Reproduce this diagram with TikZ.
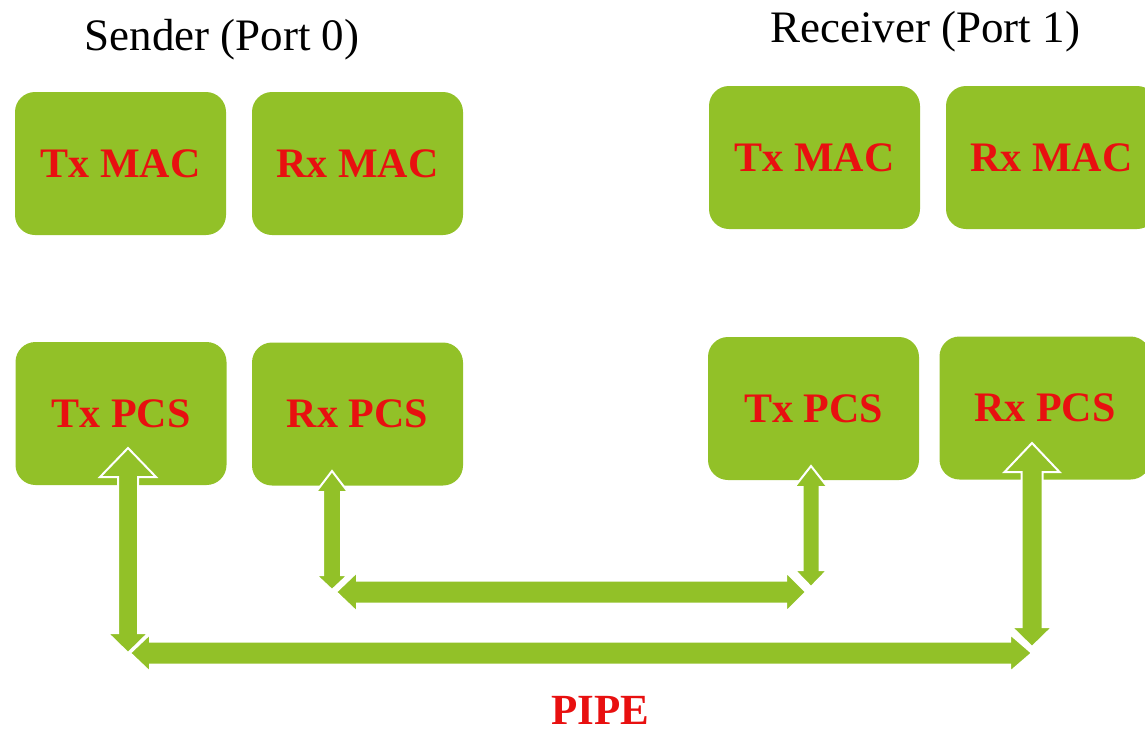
\documentclass[tikz,border=0pt]{standalone}
\usepackage{fontspec}
\setmainfont{Liberation Serif}
\usetikzlibrary{calc}
\definecolor{boxgreen}{RGB}{146,193,40}
\definecolor{lblred}{RGB}{232,16,16}
\tikzset{
  blk/.style={fill=boxgreen, rounded corners=20pt, minimum width=211pt, minimum height=143pt,
    inner sep=0pt, text=lblred, font=\fontsize{42}{48}\selectfont\bfseries},
  ttl/.style={font=\fontsize{45}{50}\selectfont, anchor=base, inner sep=0pt},
  pipelbl/.style={font=\fontsize{43}{50}\selectfont\bfseries, text=lblred, anchor=base, inner sep=0pt},
  blockarr/.style={fill=boxgreen, draw=white, line width=2pt, line join=miter},
}
% vertical double block arrow: top, bottom, shaft half, top head half, top head len, bottom head half, bottom head len
\newcommand\varrow[7]{\path[blockarr] (#1) -- ($(#1)+(#4,#5)$) -- ($(#1)+(#3,#5)$) -- ($(#2)+(#3,-#7)$) -- ($(#2)+(#6,-#7)$) -- (#2) -- ($(#2)+(-#6,-#7)$) -- ($(#2)+(-#3,-#7)$) -- ($(#1)+(-#3,#5)$) -- ($(#1)+(-#4,#5)$) -- cycle;}
% horizontal double block arrow: left, right, shaft half, left head half, left head len, right head half, right head len
\newcommand\harrow[7]{\path[blockarr] (#1) -- ($(#1)+(#5,#4)$) -- ($(#1)+(#5,#3)$) -- ($(#2)+(-#7,#3)$) -- ($(#2)+(-#7,#6)$) -- (#2) -- ($(#2)+(-#7,-#6)$) -- ($(#2)+(-#7,-#3)$) -- ($(#1)+(#5,-#3)$) -- ($(#1)+(#5,-#4)$) -- cycle;}
\begin{document}
\begin{tikzpicture}[x=1pt,y=-1pt]
\useasboundingbox (0,0) rectangle (1145,734);
\clip (0,0) rectangle (1145,734);
% titles
\node[ttl] (sendt) at (222,50) {Sender (Port 0)};
\node[ttl] (recvt) at (925,42) {Receiver (Port 1)};
% MAC boxes
\node[blk] (stxmac) at (120.5,163.5) {Tx MAC};
\node[blk] (srxmac) at (357.5,163.5) {Rx MAC};
\node[blk] (rtxmac) at (814.5,157.5) {Tx MAC};
\node[blk] (rrxmac) at (1051.5,157.5) {Rx MAC};
% PCS boxes
\node[blk] (stxpcs) at (121,413.5) {Tx PCS};
\node[blk] (srxpcs) at (357.5,414) {Rx PCS};
\node[blk] (rtxpcs) at (813.5,408.5) {Tx PCS};
\node[blk] (rrxpcs) at (1045,408) {Rx PCS};
% arrow end points
\coordinate (a1t) at (128,448);  \coordinate (a1b) at (128,653);
\coordinate (a2t) at (332,471);  \coordinate (a2b) at (332,590);
\coordinate (a3t) at (811,466);  \coordinate (a3b) at (811,587);
\coordinate (a4t) at (1032,443); \coordinate (a4b) at (1032,647);
\coordinate (h1l) at (336,592);  \coordinate (h1r) at (806,592);
\coordinate (h2l) at (130,653);  \coordinate (h2r) at (1032,653);
% arrows
\varrow{a1t}{a1b}{10}{28}{29}{20.5}{20}
\varrow{a2t}{a2b}{9}{16}{21}{16}{15}
\varrow{a3t}{a3b}{8.5}{16.5}{21}{16.5}{17}
\varrow{a4t}{a4b}{10.5}{27.5}{29}{20.5}{20}
\harrow{h1l}{h1r}{11.5}{20}{21}{20}{20}
\harrow{h2l}{h2r}{11.5}{19}{20}{19}{22}
% PIPE label
\node[pipelbl] (pipe) at (600,724) {PIPE};
\end{tikzpicture}
\end{document}
